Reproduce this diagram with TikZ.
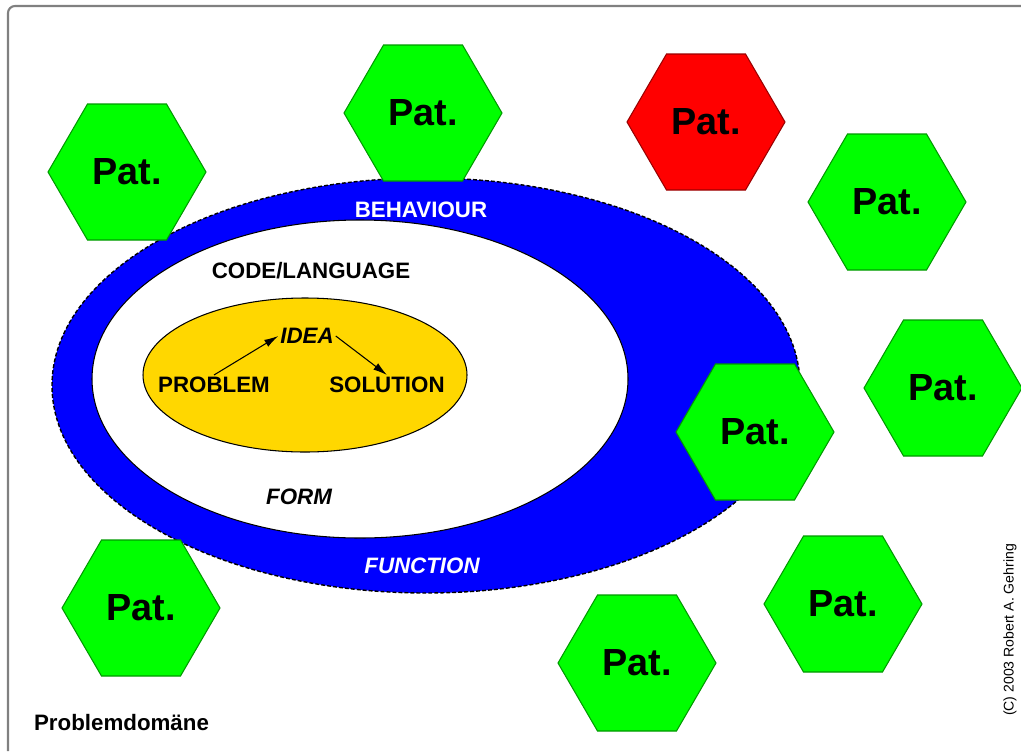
\documentclass[tikz,border=0pt]{standalone}
\usepackage{fontspec}
\setmainfont{Liberation Sans}
\usetikzlibrary{arrows.meta}
\definecolor{patgreen}{RGB}{0,255,0}
\definecolor{patred}{RGB}{255,0,0}
\definecolor{ringblue}{RGB}{0,0,255}
\definecolor{ideagold}{RGB}{255,215,0}
\definecolor{framegray}{RGB}{128,128,128}
\newcommand{\pathex}[4]{
    \filldraw[fill=#4, draw=#4!60!black, line width=0.6pt] (#2-79,#3) -- (#2-39.5,#3-68) -- (#2+39.5,#3-68)
        -- (#2+79,#3) -- (#2+39.5,#3+68) -- (#2-39.5,#3+68) -- cycle;
    \node[pat] (#1) at (#2,#3) {Pat.};
}
\newcommand{\drawarrow}{\draw[-{Latex[length=8pt,width=4.5pt]}, line width=0.6pt]}

\begin{document}
\begin{tikzpicture}[x=0.02cm, y=-0.02cm,
        lbl/.style={font=\fontsize{12.7}{15}\selectfont\bfseries, inner sep=1pt},
        pat/.style={font=\fontsize{21.5}{25}\selectfont\bfseries}]
        \useasboundingbox (0,0) rectangle (1021,751);

        % Draw frame
        \draw[framegray, line width=1.2pt, rounded corners=4] (8,751) -- (8,6) -- (1021,6);

        % Draw ellipses
        \fill[ringblue] (426,385.5) ellipse [x radius=374, y radius=207.5];
        \draw[black, line width=0.8pt, dash pattern=on 2.2pt off 1.2pt] (426,385.5) ellipse [x radius=374, y radius=207.5];
        \filldraw[fill=white, draw=black, line width=0.6pt] (360,379) ellipse [x radius=268, y radius=159];
        \filldraw[fill=ideagold, draw=black, line width=0.6pt] (305,375) ellipse [x radius=162, y radius=77];

        % Draw labels
        \node[lbl, text=white] (behaviour) at (421,210) {BEHAVIOUR};
        \node[lbl] (code) at (311,271) {CODE/LANGUAGE};
        \node[lbl, font=\fontsize{12.7}{15}\selectfont\bfseries\itshape] (idea) at (307,336) {IDEA};
        \node[lbl] (problem) at (214,385) {PROBLEM};
        \node[lbl] (solution) at (387,385) {SOLUTION};
        \node[lbl, font=\fontsize{12.7}{15}\selectfont\bfseries\itshape] (form) at (299,497) {FORM};
        \node[lbl, text=white, font=\fontsize{12.7}{15}\selectfont\bfseries\itshape] (function) at (422,566) {FUNCTION};

        % Draw arrows
        \drawarrow (problem.north) -- (idea.west);
        \drawarrow (idea.east) -- (solution.north);

        % Draw patterns
        \pathex{pat1}{127}{172}{patgreen}
        \pathex{pat2}{423}{113}{patgreen}
        \pathex{pat3}{706}{122}{patred}
        \pathex{pat4}{887}{202}{patgreen}
        \pathex{pat5}{943}{388}{patgreen}
        \pathex{pat6}{755}{432}{patgreen}
        \pathex{pat7}{141}{608}{patgreen}
        \pathex{pat8}{637}{663}{patgreen}
        \pathex{pat9}{843}{604}{patgreen}

        \node[lbl, anchor=west] (domain) at (32,723) {Problemdomäne};
        \node[rotate=90, font=\fontsize{8}{10}\selectfont, inner sep=0pt] (copyright) at (1010,630) {(C) 2003 Robert A.\ Gehring};
    \end{tikzpicture}
\end{document}
